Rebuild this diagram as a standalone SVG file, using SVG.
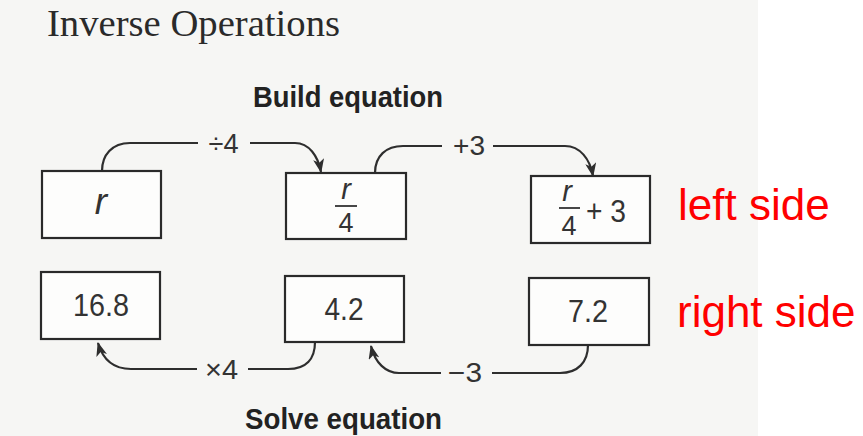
<svg xmlns="http://www.w3.org/2000/svg" width="863" height="436" viewBox="0 0 863 436">
<style>
.box{fill:#fdfdfc;stroke:#2a2a2a;stroke-width:2.2}
.con{fill:none;stroke:#2e2e2e;stroke-width:2.2}
.lbl{font-family:"Liberation Sans",Arial,sans-serif;font-size:27px;fill:#333;text-anchor:middle}
.num{font-family:"Liberation Sans",Arial,sans-serif;font-size:32px;fill:#333;text-anchor:middle}
.var{font-family:"Liberation Sans",Arial,sans-serif;font-style:italic;fill:#333;text-anchor:middle}
.head{font-family:"Liberation Sans",Arial,sans-serif;font-weight:bold;font-size:30px;fill:#222}
.red{font-family:"Liberation Sans",Arial,sans-serif;font-size:44px;fill:#f00}
.bar{stroke:#333;stroke-width:1.8}
</style>
<defs>
<marker id="ah" viewBox="0 0 14 11" refX="13" refY="5.5" markerWidth="14" markerHeight="11" markerUnits="userSpaceOnUse" orient="auto">
<path d="M0,0 L14,5.5 L0,11 L3.5,5.5 z" fill="#2e2e2e"/>
</marker>
</defs>
<rect x="0" y="0" width="863" height="436" fill="#ffffff"/>
<rect x="0" y="0" width="758" height="436" fill="#f6f6f4"/>
<text x="47" y="36" font-family="Liberation Serif,'Times New Roman',serif" font-size="38" fill="#2a2a2a" textLength="293" lengthAdjust="spacingAndGlyphs">Inverse Operations</text>
<text class="head" x="253" y="107" textLength="190" lengthAdjust="spacingAndGlyphs">Build equation</text>
<text class="head" x="245" y="429" textLength="197" lengthAdjust="spacingAndGlyphs">Solve equation</text>
<g id="connectors">
<path class="con" d="M102,171 C102,155 112,143 130,143 L198,143 M250,143 L295,143 C309,143 318,156 321,172" marker-end="url(#ah)"/>
<path class="con" d="M375,173 C375,156 386,146 403,146 L442,146 M493,146 L565,146 C580,146 590,159 593,176" marker-end="url(#ah)"/>
<path class="con" d="M315,342 C315,359 306,369 288,369 L248,369 M197,369 L131,369 C114,369 103,360 98,343" marker-end="url(#ah)"/>
<path class="con" d="M588,345 C588,362 578,373 560,373 L492,373 M441,373 L399,373 C386,373 375,363 371,346" marker-end="url(#ah)"/>
<text class="lbl" x="223.5" y="153" textLength="30" lengthAdjust="spacingAndGlyphs">÷4</text>
<text class="lbl" x="469" y="155" textLength="32" lengthAdjust="spacingAndGlyphs">+3</text>
<text class="lbl" x="221.5" y="379" textLength="33" lengthAdjust="spacingAndGlyphs">×4</text>
<text class="lbl" x="465" y="382" textLength="34" lengthAdjust="spacingAndGlyphs">−3</text>
</g>
<g id="node-r">
<rect class="box" x="42" y="171" width="119" height="67"/>
<text class="var" x="101" y="214" font-size="37">r</text>
</g>
<g id="node-r4">
<rect class="box" x="286" y="173" width="120" height="66"/>
<text class="var" x="346" y="199" font-size="29">r</text>
<line class="bar" x1="335" y1="206" x2="357" y2="206"/>
<text class="num" x="346" y="232" style="font-size:27px">4</text>
</g>
<g id="node-r4p3">
<rect class="box" x="531" y="176" width="119" height="67"/>
<text class="var" x="567" y="201" font-size="29">r</text>
<line class="bar" x1="559" y1="208" x2="580" y2="208"/>
<text class="num" x="569" y="235" style="font-size:27px">4</text>
<text class="num" x="606" y="222" textLength="40" lengthAdjust="spacingAndGlyphs">+ 3</text>
</g>
<g id="node-168">
<rect class="box" x="41" y="272" width="119" height="67"/>
<text class="num" x="101" y="316" textLength="56" lengthAdjust="spacingAndGlyphs">16.8</text>
</g>
<g id="node-42">
<rect class="box" x="285" y="276" width="119" height="66"/>
<text class="num" x="344" y="320" textLength="39" lengthAdjust="spacingAndGlyphs">4.2</text>
</g>
<g id="node-72">
<rect class="box" x="529" y="278" width="120" height="67"/>
<text class="num" x="588" y="322" textLength="40" lengthAdjust="spacingAndGlyphs">7.2</text>
</g>
<text class="red" x="678" y="220">left side</text>
<text class="red" x="677" y="327">right side</text>
</svg>
